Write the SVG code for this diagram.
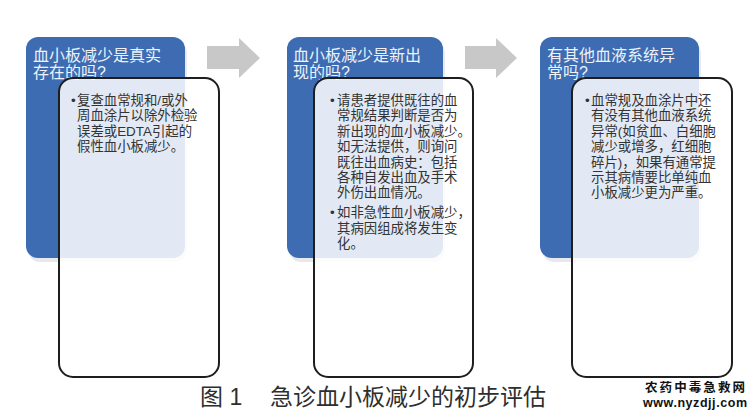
<svg xmlns="http://www.w3.org/2000/svg" width="756" height="420" viewBox="0 0 756 420">
<style>
  .blue { fill: #3d6cb3; }
  .shadow { fill: #c9cfdb; opacity: 0.45; }
  .card { fill: #ffffff; fill-opacity: 0.85; stroke: #1e1e1e; stroke-width: 2; }
  .head { font-family: "Liberation Sans", "Noto Sans CJK SC", sans-serif; font-size: 16px; fill: #eef2fa; }
  .body { font-family: "Liberation Sans", "Noto Sans CJK SC", sans-serif; font-size: 13.4px; fill: #333333; }
  .arrow { fill: #c8c8c8; }
  .cap { font-family: "Liberation Sans", "Noto Sans CJK SC", sans-serif; font-size: 23px; fill: #2e2e2e; }
  .wm1 { font-family: "Noto Sans CJK SC", sans-serif; font-size: 12.5px; font-weight: bold; fill: #111; }
  .wm2 { font-family: "Liberation Sans", sans-serif; font-size: 12.5px; font-weight: bold; fill: #111; }
</style>
<rect width="756" height="420" fill="#ffffff"/>

<g id="connectors">
  <polygon class="arrow" points="207,46 239,46 239,38 260,58 239,78 239,69 207,69"/>
  <polygon class="arrow" points="465,46 496,46 496,38 517,58 496,78 496,69 465,69"/>
</g>

<g id="step1">
  <rect class="shadow" x="28" y="41" width="159" height="221" rx="12"/>
  <rect class="blue" x="26" y="37" width="159" height="221" rx="12"/>
  <text class="head" x="33" y="61">血小板减少是真实</text>
  <text class="head" x="33" y="78">存在的吗?</text>
  <rect class="card" x="59" y="78" width="160" height="299" rx="14"/>
  <text class="body" x="71" y="105">•</text>
  <text class="body" x="77" y="105">复查血常规和/或外</text>
  <text class="body" x="77" y="120.4">周血涂片以除外检验</text>
  <text class="body" x="77" y="135.8">误差或EDTA引起的</text>
  <text class="body" x="77" y="151.2">假性血小板减少。</text>
</g>

<g id="step2">
  <rect class="shadow" x="289" y="41" width="156" height="221" rx="12"/>
  <rect class="blue" x="287" y="37" width="156" height="221" rx="12"/>
  <text class="head" x="293" y="61">血小板减少是新出</text>
  <text class="head" x="293" y="78">现的吗?</text>
  <rect class="card" x="314" y="78" width="159" height="299" rx="14"/>
  <text class="body" x="330" y="105">•</text>
  <text class="body" x="337" y="105">请患者提供既往的血</text>
  <text class="body" x="337" y="120.4">常规结果判断是否为</text>
  <text class="body" x="337" y="135.8">新出现的血小板减少。</text>
  <text class="body" x="337" y="151.2">如无法提供，则询问</text>
  <text class="body" x="337" y="166.6">既往出血病史：包括</text>
  <text class="body" x="337" y="182">各种自发出血及手术</text>
  <text class="body" x="337" y="197.4">外伤出血情况。</text>
  <text class="body" x="330" y="217.3">•</text>
  <text class="body" x="337" y="217.3">如非急性血小板减少，</text>
  <text class="body" x="337" y="232.7">其病因组成将发生变</text>
  <text class="body" x="337" y="248.1">化。</text>
</g>

<g id="step3">
  <rect class="shadow" x="542" y="41" width="159" height="221" rx="12"/>
  <rect class="blue" x="540" y="37" width="159" height="221" rx="12"/>
  <text class="head" x="547" y="61">有其他血液系统异</text>
  <text class="head" x="547" y="78">常吗?</text>
  <rect class="card" x="572" y="78" width="160" height="299" rx="14"/>
  <text class="body" x="585" y="105">•</text>
  <text class="body" x="591" y="105">血常规及血涂片中还</text>
  <text class="body" x="591" y="120.4">有没有其他血液系统</text>
  <text class="body" x="591" y="135.8">异常(如贫血、白细胞</text>
  <text class="body" x="591" y="151.2">减少或增多，红细胞</text>
  <text class="body" x="591" y="166.6">碎片)，如果有通常提</text>
  <text class="body" x="591" y="182">示其病情要比单纯血</text>
  <text class="body" x="591" y="197.4">小板减少更为严重。</text>
</g>

<g id="caption">
  <text class="cap" x="200" y="405">图 1</text>
  <text class="cap" x="270" y="405">急诊血小板减少的初步评估</text>
</g>

<g id="watermark">
  <text class="wm1" x="645" y="392" textLength="100">农药中毒急救网</text>
  <text class="wm2" x="643" y="407" textLength="104">www.nyzdjj.com</text>
</g>
</svg>
